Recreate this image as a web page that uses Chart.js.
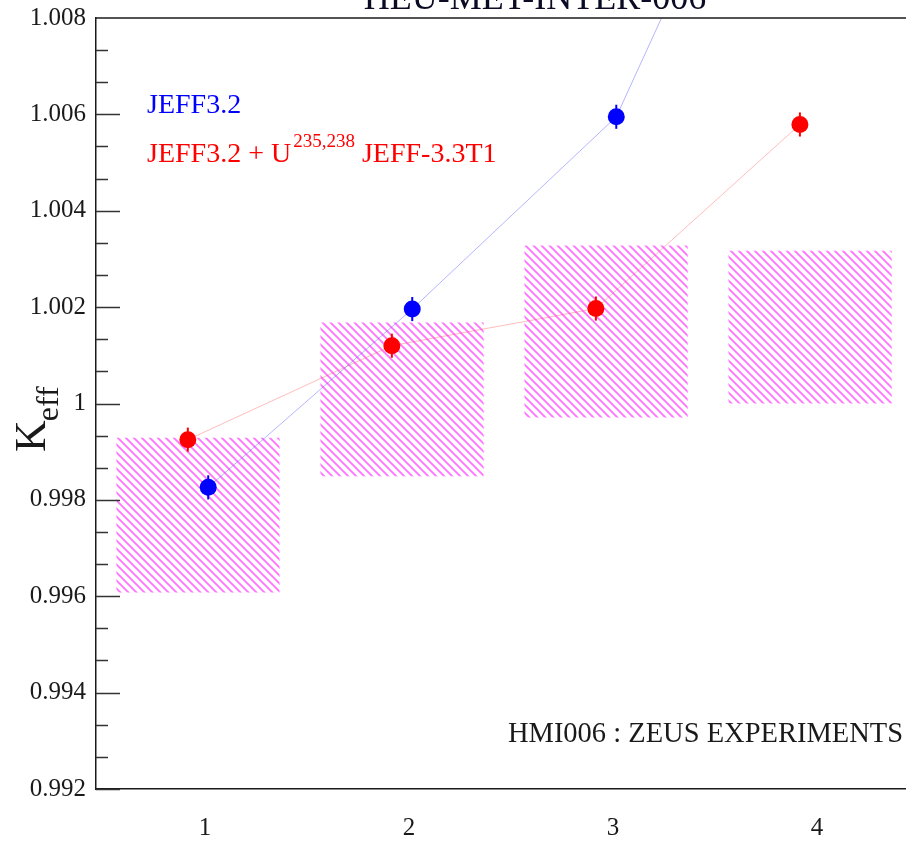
<!DOCTYPE html>
<html>
<head>
<meta charset="utf-8">
<script src="https://cdn.jsdelivr.net/npm/chart.js@4.4.1/dist/chart.umd.min.js"></script>
<style>
  html, body { margin: 0; padding: 0; background: #fff; }
  #wrap { width: 906px; height: 841px; }
</style>
</head>
<body>
<div id="wrap"><canvas id="chart"></canvas></div>
<script>
const cases = [1, 2, 3, 4];
const xTicks = [1, 2, 3, 4];
const yTicks = [0.992, 0.994, 0.996, 0.998, 1, 1.002, 1.004, 1.006, 1.008];

// experimental band (hatched boxes)
const expLow = [0.99608, 0.99849, 0.99971, 1.0];
const expHigh = [0.99929, 1.00168, 1.00328, 1.00317];

// JEFF3.2
const jeffX = [1.05, 2.05, 3.05, 4.05];
const jeffK = [0.99826, 1.00196, 1.00595, 1.0152];
const jeffErr = [0.00025, 0.00025, 0.00025, 0.00025];

// JEFF3.2 + U235,238 JEFF-3.3T1
const jeffUX = [0.95, 1.95, 2.95, 3.95];
const jeffUK = [0.99925, 1.0012, 1.00197, 1.00579];
const jeffUErr = [0.00025, 0.00025, 0.00025, 0.00025];

const SERIF = "'Liberation Serif', 'DejaVu Serif', serif";
const INK = "#1a1a1a";

const ctx = document.getElementById("chart").getContext("2d");

const makeHatch = () => {
  const c = document.createElement("canvas");
  c.width = 8;
  c.height = 8;
  const g = c.getContext("2d");
  g.strokeStyle = "rgba(255, 0, 255, 0.55)";
  g.lineWidth = 1.9;
  g.beginPath();
  g.moveTo(-2, -2); g.lineTo(10, 10);
  g.moveTo(-2, 6); g.lineTo(2, 10);
  g.moveTo(6, -2); g.lineTo(10, 2);
  g.stroke();
  return ctx.createPattern(c, "repeat");
};

const toPoints = (xs, ys) => xs.map((x, i) => ({ x, y: ys[i] }));

const decorations = {
  id: "decorations",
  afterDatasetsDraw(chart) {
    const { ctx: c, chartArea: a, scales } = chart;
    const x = scales.x;
    const y = scales.y;

    // error bars
    c.save();
    c.beginPath();
    c.rect(a.left, a.top, a.right - a.left, a.bottom - a.top);
    c.clip();
    const bars = [
      [jeffX, jeffK, jeffErr, "#0000ff"],
      [jeffUX, jeffUK, jeffUErr, "#ff0000"]
    ];
    bars.forEach(([xs, ks, es, color]) => {
      c.strokeStyle = color;
      c.lineWidth = 2;
      xs.forEach((xv, i) => {
        const px = x.getPixelForValue(xv);
        c.beginPath();
        c.moveTo(px, y.getPixelForValue(ks[i] - es[i]));
        c.lineTo(px, y.getPixelForValue(ks[i] + es[i]));
        c.stroke();
      });
    });
    c.restore();
  },
  afterDraw(chart) {
    const { ctx: c, chartArea: a, scales } = chart;
    const y = scales.y;

    c.save();
    // top frame line
    c.strokeStyle = INK;
    c.lineWidth = 1.5;
    c.beginPath();
    c.moveTo(a.left, a.top);
    c.lineTo(a.right, a.top);
    c.stroke();

    // inward ticks on y axis
    c.strokeStyle = "#333";
    c.lineWidth = 1.5;
    const step = 0.002 / 3;
    for (let i = 0; i < yTicks.length - 1; i++) {
      for (let k = 0; k < 3; k++) {
        const v = yTicks[i] + k * step;
        const py = Math.round(y.getPixelForValue(v)) + 0.5;
        c.beginPath();
        c.moveTo(a.left, py);
        c.lineTo(a.left + (k === 0 ? 24 : 12), py);
        c.stroke();
      }
    }

    // title (cut at the top)
    c.fillStyle = "#0b0b25";
    c.font = "36px " + SERIF;
    c.textAlign = "center";
    c.textBaseline = "alphabetic";
    c.fillText("HEU-MET-INTER-006", 535, 9);

    // legend texts
    c.textAlign = "left";
    c.font = "28px " + SERIF;
    c.fillStyle = "#0000ff";
    c.fillText("JEFF3.2", 147, 113);

    c.fillStyle = "#ff0000";
    let tx = 147;
    const part1 = "JEFF3.2 + U";
    c.fillText(part1, tx, 162);
    tx += c.measureText(part1).width + 2;
    c.font = "19px " + SERIF;
    c.fillText("235,238", tx, 147);
    tx += c.measureText("235,238").width;
    c.font = "28px " + SERIF;
    c.fillText(" JEFF-3.3T1", tx, 162);

    // annotation
    c.fillStyle = INK;
    c.textAlign = "right";
    c.font = "28.5px " + SERIF;
    c.fillText("HMI006 : ZEUS EXPERIMENTS", 903, 742);

    // y axis title K_eff, rotated
    c.translate(45, 452);
    c.rotate(-Math.PI / 2);
    c.textAlign = "left";
    c.font = "44px " + SERIF;
    c.fillText("K", 0, 0);
    const kw = c.measureText("K").width;
    c.font = "32px " + SERIF;
    c.fillText("eff", kw - 1, 13);
    c.restore();
  }
};

new Chart(ctx, {
  type: "scatter",
  data: {
    datasets: [
      {
        type: "bar",
        label: "experiment",
        data: cases.map((c, i) => ({ x: c, y: [expLow[i], expHigh[i]] })),
        backgroundColor: makeHatch(),
        borderWidth: 0,
        barPercentage: 0.8,
        categoryPercentage: 1,
        order: 3
      },
      {
        type: "line",
        label: "JEFF3.2",
        data: toPoints(jeffX, jeffK),
        borderColor: "rgba(90, 90, 255, 0.45)",
        borderWidth: 1,
        pointRadius: 8.5,
        pointBackgroundColor: "#0000ff",
        pointBorderWidth: 0,
        tension: 0,
        order: 1
      },
      {
        type: "line",
        label: "JEFF3.2 + U235,238 JEFF-3.3T1",
        data: toPoints(jeffUX, jeffUK),
        borderColor: "rgba(255, 90, 90, 0.4)",
        borderWidth: 1,
        pointRadius: 8.5,
        pointBackgroundColor: "#ff0000",
        pointBorderWidth: 0,
        tension: 0,
        order: 2
      }
    ]
  },
  options: {
    responsive: true,
    maintainAspectRatio: false,
    animation: false,
    layout: { autoPadding: false, padding: { top: 18, left: 30, right: 0, bottom: 0 } },
    plugins: {
      legend: { display: false },
      tooltip: { enabled: false }
    },
    scales: {
      x: {
        type: "linear",
        min: 0.5,
        max: 4.47,
        offset: false,
        afterBuildTicks: (axis) => { axis.ticks = xTicks.map((value) => ({ value })); },
        afterFit: (axis) => {
          axis.height = 52;
          axis.paddingLeft = 0;
          axis.paddingRight = 0;
        },
        ticks: {
          color: INK,
          font: { family: SERIF, size: 25 },
          padding: 24,
          labelOffset: 7,
          maxRotation: 0,
          callback: (v) => String(v)
        },
        grid: { display: false, drawTicks: false },
        border: { display: true, color: INK, width: 1.5 }
      },
      y: {
        type: "linear",
        min: 0.992,
        max: 1.008,
        afterBuildTicks: (axis) => { axis.ticks = yTicks.map((value) => ({ value })); },
        afterFit: (axis) => {
          axis.width = 66;
          axis.paddingTop = 0;
          axis.paddingBottom = 0;
        },
        ticks: {
          color: INK,
          font: { family: SERIF, size: 25 },
          padding: 10,
          callback: (v) => String(Number(v.toFixed(3)))
        },
        grid: { display: false, drawTicks: false },
        border: { display: true, color: INK, width: 1.5 }
      }
    }
  },
  plugins: [decorations]
});
</script>
</body>
</html>
